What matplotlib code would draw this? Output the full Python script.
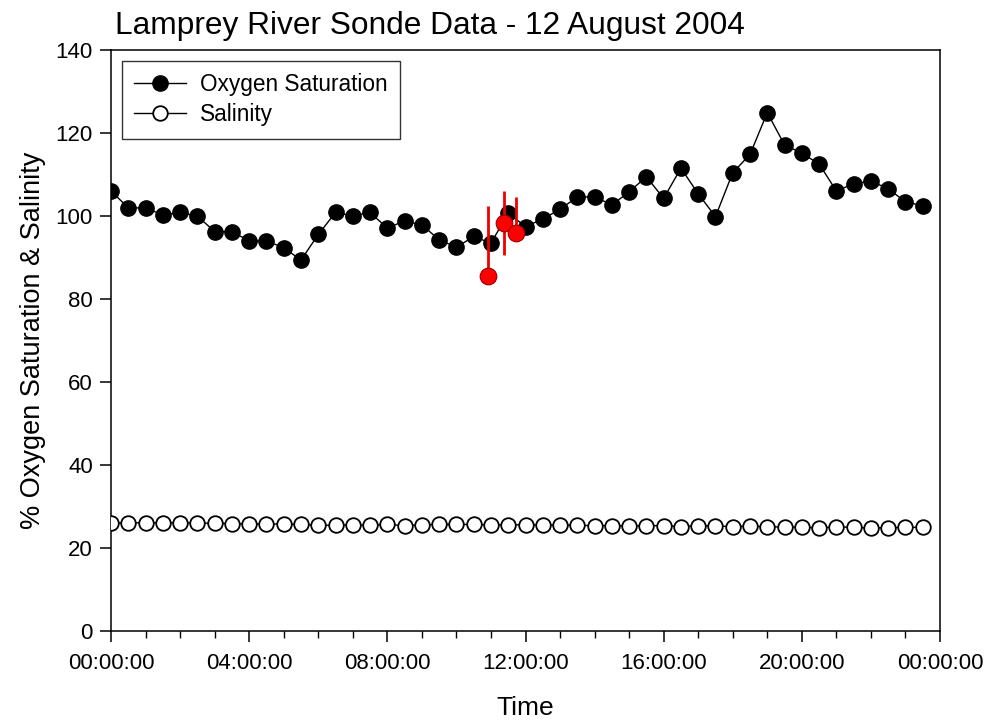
import numpy as np
import pandas as pd
import matplotlib
matplotlib.use("Agg")
import matplotlib.pyplot as plt
import matplotlib.dates as mdates

plt.rcParams["font.family"] = ["Liberation Sans", "DejaVu Sans"]

# --- data ------------------------------------------------------------------ #
# sonde readings every 30 min, 12 August 2004
times = pd.date_range("2004-08-12 00:00", periods=48, freq="30min")

oxygen = [106.1, 102.0, 102.0, 100.3, 100.9, 100.0, 96.3, 96.3, 94.0, 94.0,
          92.4, 89.4, 95.6, 100.9, 100.1, 100.9, 97.1, 98.9, 97.9, 94.3,
          92.5, 95.1, 93.5, 100.7, 97.5, 99.3, 101.7, 104.6, 104.7, 102.7,
          105.9, 109.5, 104.3, 111.6, 105.4, 99.9, 110.5, 114.9, 125.0, 117.2,
          115.2, 112.6, 106.1, 107.8, 108.5, 106.6, 103.5, 102.5]

salinity = [25.9, 26.0, 26.0, 26.0, 26.0, 25.9, 25.9, 25.8, 25.7, 25.7,
            25.7, 25.6, 25.4, 25.4, 25.5, 25.4, 25.6, 25.3, 25.5, 25.6,
            25.6, 25.6, 25.5, 25.5, 25.5, 25.5, 25.4, 25.4, 25.3, 25.3,
            25.2, 25.3, 25.3, 25.1, 25.3, 25.2, 25.1, 25.2, 25.0, 25.0,
            24.9, 24.8, 25.0, 24.9, 24.7, 24.8, 24.9, 24.9]

# discrete samples with error bars
sample_times = pd.to_datetime(["2004-08-12 10:55", "2004-08-12 11:22", "2004-08-12 11:43"])
sample_o2 = [85.6, 98.3, 95.9]
sample_err_lo = [0.0, 7.7, 2.0]
sample_err_hi = [16.8, 7.9, 8.7]

# --- figure ---------------------------------------------------------------- #
fig = plt.figure(figsize=(9.95, 7.21), dpi=100)
ax = fig.add_axes([0.1116, 0.1255, 0.8331, 0.8045])

ax.plot(times, oxygen, "-o", color="black", lw=1.0, ms=11, mfc="black",
        mec="black", label="Oxygen Saturation", zorder=3)
ax.plot(times, salinity, "-o", color="black", lw=1.0, ms=10.5, mfc="white",
        mec="black", mew=1.3, label="Salinity", zorder=3)
ax.errorbar(sample_times, sample_o2, yerr=[sample_err_lo, sample_err_hi],
            fmt="o", color="#ee0000", ecolor="#ee0000", elinewidth=2.0, capsize=0,
            ms=12, mfc="#ff0000", mec="#990000", mew=0.8, zorder=4)

ax.set_xlim(pd.Timestamp("2004-08-12 00:00"), pd.Timestamp("2004-08-13 00:00"))
ax.set_ylim(0, 140)
ax.set_yticks(np.arange(0, 141, 20))
ax.xaxis.set_major_locator(mdates.HourLocator(byhour=range(0, 24, 4)))
ax.xaxis.set_minor_locator(mdates.HourLocator())
ax.xaxis.set_major_formatter(mdates.DateFormatter("%H:%M:%S"))

ax.tick_params(axis="both", which="major", direction="out", length=8, width=1.1,
               labelsize=16)
ax.tick_params(axis="x", which="major", pad=8)
ax.tick_params(axis="y", which="major", pad=5)
ax.tick_params(axis="x", which="minor", direction="out", length=5, width=1.0)
for s in ax.spines.values():
    s.set_linewidth(1.1)

ax.set_xlabel("Time", fontsize=19, labelpad=16)
ax.set_ylabel("% Oxygen Saturation & Salinity", fontsize=19.5, labelpad=7)

fig.text(115 / 995, 1 - 34 / 721, "Lamprey River Sonde Data - 12 August 2004",
         fontsize=22.8, ha="left", va="baseline")

leg = ax.legend(loc="upper left", bbox_to_anchor=(0.013, 0.982), borderaxespad=0,
                fontsize=16.3, frameon=True, fancybox=False, edgecolor="black",
                handlelength=2.3, handletextpad=0.6, labelspacing=0.3,
                borderpad=0.55)
leg.get_frame().set_linewidth(1.0)

fig.savefig("out.png", dpi=100)
